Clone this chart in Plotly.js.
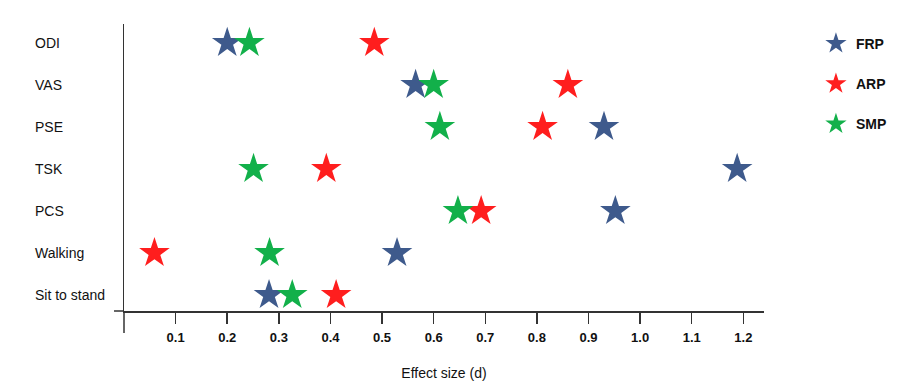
<!DOCTYPE html>
<html>
<head>
<meta charset="utf-8">
<script src="https://cdn.plot.ly/plotly-3.0.1.min.js"></script>
<style>html,body{margin:0;padding:0;background:#fff;}#chart{width:901px;height:388px;}</style>
</head>
<body>
<div id="chart"></div>
<script>
var categories = ["ODI", "VAS", "PSE", "TSK", "PCS", "Walking", "Sit to stand"];
var frp = [0.20, 0.565, 0.930, 1.188, 0.952, 0.529, 0.281];
var arp = [0.485, 0.860, 0.811, 0.392, 0.692, 0.059, 0.411];
var smp = [0.243, 0.600, 0.612, 0.251, 0.647, 0.282, 0.326];
var xTicks = [0.1, 0.2, 0.3, 0.4, 0.5, 0.6, 0.7, 0.8, 0.9, 1.0, 1.1, 1.2];
var xTickText = ["0.1", "0.2", "0.3", "0.4", "0.5", "0.6", "0.7", "0.8", "0.9", "1.0", "1.1", "1.2"];

var FONT = "Arial, 'Liberation Sans', sans-serif";
function tr(name, vals, color, g) {
  return {
    type: "scatter", mode: "markers", name: name, legendgroup: g,
    x: vals, y: categories,
    marker: {symbol: "star", size: 23, color: color, line: {width: 0}},
    hoverinfo: "x+y+name"
  };
}
var data = [
  tr("FRP", frp, "#3E5A8C", "a"),
  tr("ARP", arp, "#FF1E1E", "b"),
  tr("SMP", smp, "#12B04A", "c")
];

var annotations = categories.map(function (c) {
  return {xref: "paper", yref: "y", x: -0.142, y: c, xanchor: "left", yanchor: "middle",
    text: c, showarrow: false, font: {family: FONT, size: 14, color: "#111"}};
});

var layout = {
  width: 901, height: 388,
  margin: {l: 124, r: 137, t: 24, b: 77, autoexpand: false},
  paper_bgcolor: "#fff", plot_bgcolor: "#fff",
  font: {family: FONT, color: "#111"},
  showlegend: true,
  legend: {xref: "container", yref: "container", x: 0.9056, xanchor: "left", y: 0.928, yanchor: "top",
    traceorder: "grouped", tracegroupgap: 19,
    font: {family: FONT, size: 14, color: "#111", weight: "bold"},
    itemsizing: "trace", bgcolor: "rgba(0,0,0,0)"},
  xaxis: {
    range: [0, 1.24], showgrid: false, zeroline: false, automargin: false,
    showline: true, linecolor: "#333", linewidth: 1.5,
    ticks: "outside", ticklen: 11, tickwidth: 1.5, tickcolor: "#333",
    tickvals: xTicks, ticktext: xTickText, ticklabelstandoff: 3,
    tickfont: {family: FONT, size: 13, color: "#111", weight: "bold"},
    title: {text: "Effect size (d)", font: {family: FONT, size: 14, color: "#111"}, standoff: 24},
    fixedrange: true
  },
  yaxis: {
    type: "category", categoryorder: "array", categoryarray: categories.slice().reverse(),
    range: [-0.38, 6.45], showgrid: false, zeroline: false, automargin: false,
    showline: true, linecolor: "#333", linewidth: 1.5,
    showticklabels: false, ticks: "", fixedrange: true
  },
  annotations: annotations,
  shapes: [
    {type: "line", xref: "paper", yref: "paper", x0: -0.0156, x1: 0, y0: 0, y1: 0, line: {color: "#333", width: 1.5}},
    {type: "line", xref: "paper", yref: "paper", x0: 0, x1: 0, y0: 0, y1: -0.077, line: {color: "#333", width: 1.5}}
  ]
};
Plotly.newPlot("chart", data, layout, {displayModeBar: false, staticPlot: true});
</script>
</body>
</html>
